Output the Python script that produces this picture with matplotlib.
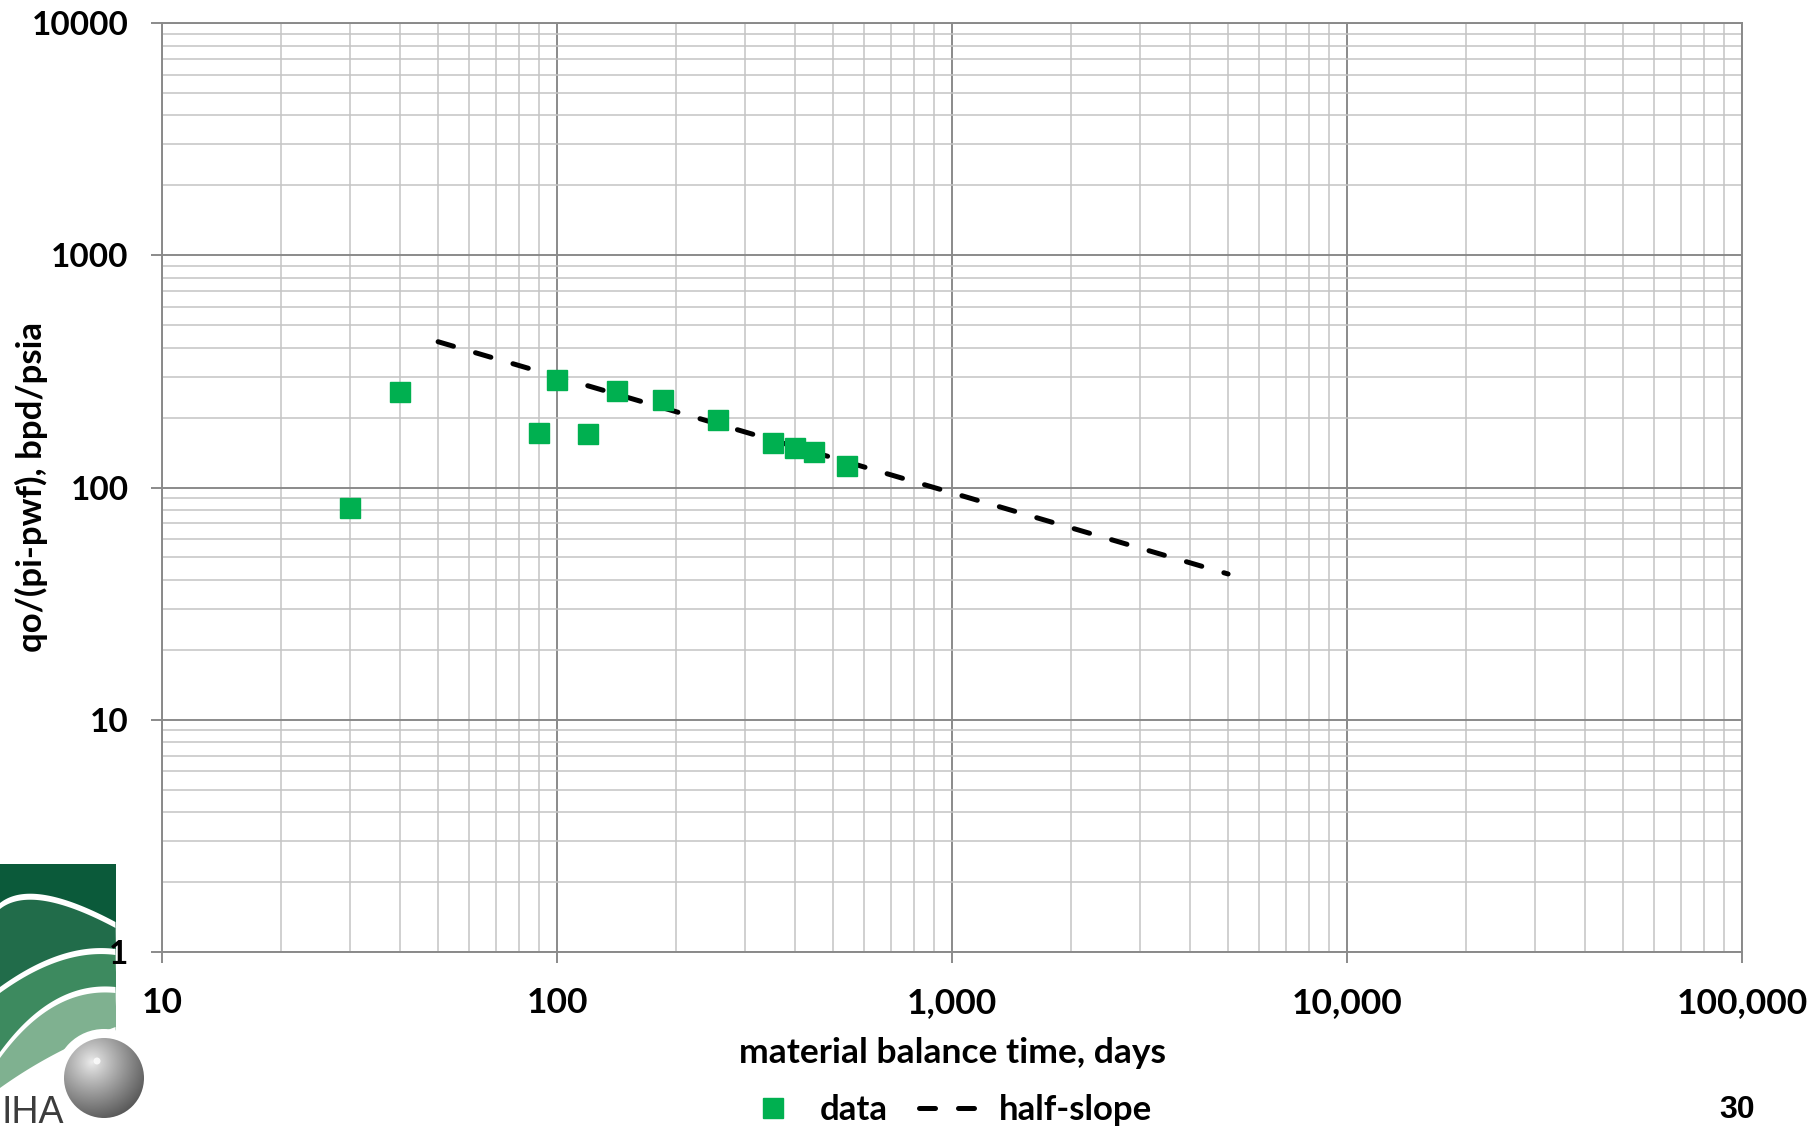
import numpy as np
import matplotlib
matplotlib.use("Agg")
import matplotlib.pyplot as plt
from matplotlib.ticker import FixedLocator, NullFormatter, LogLocator
from matplotlib.lines import Line2D
from matplotlib.patches import Polygon, Circle, Rectangle

# ---- data -------------------------------------------------------------
mbt_days = [30, 40, 90, 100, 120, 142, 186, 256, 352, 400, 447, 541]
q_over_dp = [82, 259, 171, 291, 170, 260, 238, 195, 156, 148, 142, 124]

half_slope_t = [50, 5000]
half_slope_coef = 3000.0  # q/dp = coef / sqrt(t)

x_ticks = [10, 100, 1000, 10000, 100000]
x_tick_labels = ["10", "100", "1,000", "10,000", "100,000"]
y_ticks = [1, 10, 100, 1000, 10000]
y_tick_labels = ["1", "10", "100", "1000", "10000"]

# ---- style ------------------------------------------------------------
W, H, DPI = 1810, 1128, 100
FONT = "Lato"
GREEN = "#00B050"
MAJOR_GRID = "#8a8a8a"
MINOR_GRID = "#c4c4c4"
DASH = (0, (3.2, 4.6))
AX_L, AX_R, AX_T, AX_B = 162, 1742, 23, 952

fig = plt.figure(figsize=(W / DPI, H / DPI), dpi=DPI)
ax = fig.add_axes([AX_L / W, 1 - AX_B / H, (AX_R - AX_L) / W, (AX_B - AX_T) / H])
ax.set_xscale("log")
ax.set_yscale("log")
ax.set_xlim(10, 100000)
ax.set_ylim(1, 10000)

ax.xaxis.set_major_locator(FixedLocator(x_ticks))
ax.yaxis.set_major_locator(FixedLocator(y_ticks))
ax.xaxis.set_minor_locator(LogLocator(base=10, subs=np.arange(2, 10)))
ax.yaxis.set_minor_locator(LogLocator(base=10, subs=np.arange(2, 10)))
ax.xaxis.set_minor_formatter(NullFormatter())
ax.yaxis.set_minor_formatter(NullFormatter())
ax.set_xticklabels(x_tick_labels)
ax.set_yticklabels(y_tick_labels)

ax.grid(which="major", color=MAJOR_GRID, lw=1.4)
ax.grid(which="minor", color=MINOR_GRID, lw=1.1)
ax.set_axisbelow(True)
for sp in ax.spines.values():
    sp.set_color(MAJOR_GRID)
    sp.set_linewidth(1.4)

ax.tick_params(which="major", direction="out", length=8, width=1.4,
               color=MAJOR_GRID)
ax.tick_params(axis="y", which="major", pad=16, labelsize=24)
ax.tick_params(axis="x", which="major", pad=17, labelsize=25.5)
ax.tick_params(which="minor", length=0)
for lab in ax.get_xticklabels() + ax.get_yticklabels():
    lab.set_fontfamily(FONT)
    lab.set_fontweight("bold")

# half-slope reference line
t_line = np.logspace(np.log10(half_slope_t[0]), np.log10(half_slope_t[1]), 200)
ax.plot(t_line, half_slope_coef / np.sqrt(t_line), color="black", lw=3.6,
        linestyle=DASH, dash_capstyle="round", zorder=3)

# data points
ax.plot(mbt_days, q_over_dp, linestyle="none", marker="s", ms=14.4,
        color=GREEN, mec=GREEN, zorder=4)

ax.set_xlabel("material balance time, days", fontfamily=FONT,
              fontweight="bold", fontsize=25.5)
ax.xaxis.set_label_coords(0.5, (AX_B - 1053) / (AX_B - AX_T))
ax.xaxis.label.set_va("center")
ax.set_ylabel("qo/(pi-pwf), bpd/psia", fontfamily=FONT,
              fontweight="bold", fontsize=25)
ax.yaxis.set_label_coords((31 - AX_L) / (AX_R - AX_L), 0.5)
ax.yaxis.label.set_va("center")

# legend below the axis title
handles = [
    Line2D([], [], linestyle="none", marker="s", ms=14.4, color=GREEN),
    Line2D([], [], color="black", lw=3.6, linestyle=DASH,
           dash_capstyle="round"),
]
fig.legend(handles, ["data", "half-slope"], loc="center",
           bbox_to_anchor=(946 / W, 1 - 1110 / H), ncol=2, frameon=False,
           prop={"family": FONT, "weight": "bold", "size": 25},
           handlelength=1.9, handletextpad=0.4, columnspacing=0.9,
           borderpad=0, borderaxespad=0)

# page number
fig.text(1737 / W, 1 - 1110 / H, "30", ha="center", va="center",
         fontfamily="Liberation Sans", fontweight="bold", fontsize=23)

# ---- company logo (bottom-left corner, pixel coordinates) -------------
lx = fig.add_axes([0, 0, 1, 1], zorder=-1)
lx.set_xlim(0, W)
lx.set_ylim(H, 0)
lx.axis("off")

def curve(p0, p1, p2, n=60):
    # quadratic Bezier whose midpoint passes through p1
    p0, p1, p2 = map(np.asarray, (p0, p1, p2))
    c = 2 * p1 - 0.5 * (p0 + p2)
    t = np.linspace(0, 1, n)[:, None]
    return (1 - t) ** 2 * p0 + 2 * (1 - t) * t * c + t ** 2 * p2

LOGO_R = 115.5
LOGO_TOP = 864
clip = Rectangle((0, LOGO_TOP), LOGO_R, H - LOGO_TOP, transform=lx.transData)

bands = [
    ("#0b5a3a", None),
    ("#216c4a", ((0, 903), (45, 895), (LOGO_R, 922))),
    ("#3d8a5f", ((0, 987), (60, 955), (LOGO_R, 949))),
    ("#7fb190", ((0, 1052), (55, 1000), (LOGO_R, 987))),
    ("white", ((0, 1088), (55, 1054), (LOGO_R, 1027))),
]
gap = 6
for color, pts in bands:
    if pts is None:
        poly = np.array([(0, LOGO_TOP), (LOGO_R, LOGO_TOP), (LOGO_R, H), (0, H)])
        p = lx.add_patch(Polygon(poly, closed=True, fc=color, ec="none"))
        p.set_clip_path(clip)
        continue
    cv = curve(*pts)
    if color != "white":
        white = np.vstack([cv, [(LOGO_R + 5, H), (-5, H)]])
        p = lx.add_patch(Polygon(white, closed=True, fc="white", ec="none"))
        p.set_clip_path(clip)
        cv = cv + np.array([0, gap])
    poly = np.vstack([cv, [(LOGO_R + 5, H), (-5, H)]])
    p = lx.add_patch(Polygon(poly, closed=True, fc=color, ec="none"))
    p.set_clip_path(clip)

# white halo and shaded sphere
sc = (104, 1078)
sr = 40
lx.add_patch(Circle(sc, sr + 9, fc="white", ec="none"))
n = 200
yy, xx = np.mgrid[0:n, 0:n]
xx = (xx / (n - 1)) * 2 * sr + sc[0] - sr
yy = (yy / (n - 1)) * 2 * sr + sc[1] - sr
d = np.hypot(xx - (sc[0] - 12), yy - (sc[1] - 16)) / (sr * 1.6)
d = np.clip(d, 0, 1)
shade = 0.93 - 0.62 * d ** 0.9
img = np.dstack([shade, shade, shade])
im = lx.imshow(img, extent=(sc[0] - sr, sc[0] + sr, sc[1] + sr, sc[1] - sr),
               interpolation="bilinear", zorder=3)
im.set_clip_path(Circle(sc, sr, transform=lx.transData))
lx.add_patch(Circle((sc[0] - 7, sc[1] - 17), 3.5, fc="white", ec="none",
                    alpha=0.8, zorder=4))

lx.text(1, 1123, "IHA", ha="left", va="baseline", color="#3c3c3c",
        fontfamily="Liberation Sans", fontsize=27)

fig.savefig("out.png", dpi=DPI, facecolor="white")
